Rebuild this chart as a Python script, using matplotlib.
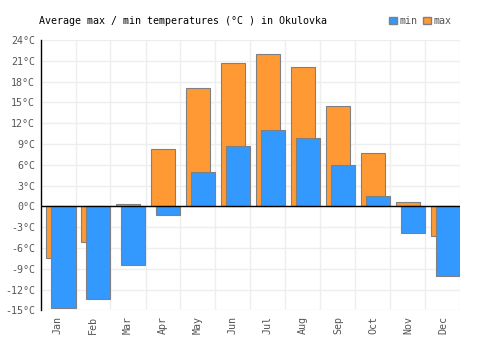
import numpy as np
import matplotlib.pyplot as plt
from matplotlib.patches import Patch

plt.rcParams.update({
    "font.family": "DejaVu Sans Mono",
    "font.size": 7.2,
    "axes.unicode_minus": False,
})

months = ["Jan", "Feb", "Mar", "Apr", "May", "Jun",
          "Jul", "Aug", "Sep", "Oct", "Nov", "Dec"]
t_max = [-7.4, -5.1, 0.4, 8.3, 17.0, 20.7, 21.9, 20.1, 14.5, 7.7, 0.7, -4.2]
t_min = [-14.7, -13.4, -8.5, -1.3, 5.0, 8.7, 11.0, 9.9, 5.9, 1.5, -3.8, -10.0]
yticks = list(range(-15, 25, 3))

orange = "#FF9933"
blue   = "#3399FF"
edge   = "#808080"
grey   = "#555555"

fig = plt.figure(figsize=(5, 3.5), dpi=100)
ax = fig.add_axes([0.081, 0.113, 0.84, 0.773])

x = np.arange(len(months))
ax.bar(x, t_max, width=0.66, color=orange, edgecolor=edge, linewidth=0.8, zorder=2)
ax.bar(x + 0.157, t_min, width=0.686, color=blue, edgecolor=edge, linewidth=0.8, zorder=3)

ax.axhline(0, color="black", lw=1.0, zorder=4)

ax.set_xlim(-0.5, 11.5)
ax.set_ylim(-15, 24)
ax.set_yticks(yticks)
ax.set_yticklabels([f"{v}°C" for v in yticks], color=grey)
ax.set_xticks(x)
ax.set_xticklabels(months, rotation=90, color=grey)
ax.tick_params(axis="both", which="both", length=0, pad=4)

# light grid
for v in yticks:
    ax.axhline(v, color="#eeeeee", lw=1, zorder=0)
for v in np.arange(0.5, 12, 1):
    ax.axvline(v, color="#eeeeee", lw=1, zorder=0)

for s in ["top", "right", "bottom"]:
    ax.spines[s].set_visible(False)
ax.spines["left"].set_color("black")
ax.spines["left"].set_linewidth(1.0)

fig.text(0.078, 0.94, "Average max / min temperatures (°C ) in Okulovka",
         fontsize=7.2, color="black", va="center")

handles = [Patch(facecolor=blue, edgecolor=edge, label="min"),
           Patch(facecolor=orange, edgecolor=edge, label="max")]
fig.legend(handles=handles, loc="center right", bbox_to_anchor=(0.92, 0.94),
           ncol=2, frameon=False, handlelength=0.8, handleheight=0.8,
           handletextpad=0.2, columnspacing=0.6, labelcolor=grey, fontsize=7.2)

fig.savefig("out.png", dpi=100)
